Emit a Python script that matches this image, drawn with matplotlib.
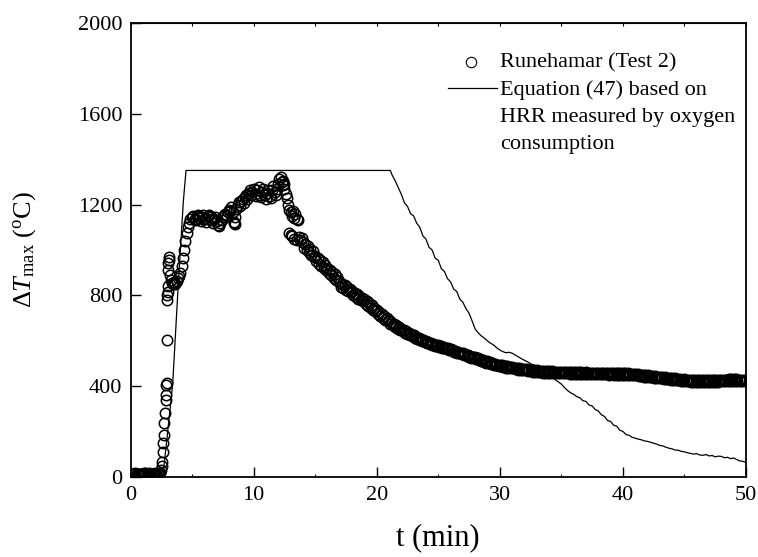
import numpy as np
import matplotlib
matplotlib.use("Agg")
import matplotlib.pyplot as plt

plt.rcParams["font.family"] = ["Liberation Serif", "DejaVu Serif"]
plt.rcParams["mathtext.fontset"] = "custom"
plt.rcParams["mathtext.rm"] = "Liberation Serif"
plt.rcParams["mathtext.it"] = "Liberation Serif:italic"

# ── Runehamar Test 2, measured ΔTmax (°C) ─────────────
# before ignition (sampled every 6 s)
t_pre = np.linspace(0.0, 2.4, 25)
dT_pre = [15, 16, 14, 15, 17, 15, 14, 16, 15, 16, 15, 17, 18,
          16, 15, 17, 16, 15, 14, 16, 17, 15, 16, 17, 18]

# ignition and growth (irregular read-off)
t_grow = [2.50, 2.53, 2.56, 2.60, 2.65, 2.70, 2.75, 2.80, 2.85, 2.88,
          2.92, 2.94, 2.96, 2.98, 3.00, 3.02, 3.04, 3.06, 3.08, 3.10,
          3.14, 3.18,
          3.25, 3.35, 3.45, 3.55, 3.65, 3.75, 3.85, 3.95,
          4.05, 4.15, 4.25, 4.35, 4.45, 4.55, 4.65, 4.75, 4.85]
dT_grow = [30, 50, 69, 113, 151, 186, 239, 283, 340, 362,
           406, 413, 604, 780, 800, 815, 840, 912, 941, 970,
           955, 890,
           870, 855, 850, 860, 850, 865, 875, 885,
           900, 930, 965, 1000, 1040, 1075, 1100, 1120, 1135]

# fully developed fire, 5.0 - 16.9 min every 6 s
t_peak = np.linspace(5.0, 16.9, 120)
dT_peak = [1145, 1150, 1138, 1130, 1148, 1155, 1140, 1128, 1145, 1152,   # 5
           1138, 1125, 1135, 1150, 1156, 1145, 1130, 1120, 1135, 1146,   # 6
           1128, 1112, 1104, 1118, 1132, 1146, 1152, 1160, 1150, 1168,   # 7
           1178, 1172, 1190, 1165, 1125, 1145, 1182, 1200, 1212, 1195,   # 8
           1215, 1226, 1208, 1232, 1242, 1224, 1252, 1262, 1240, 1256,   # 9
           1270, 1248, 1236, 1262, 1276, 1244, 1232, 1256, 1270, 1240,   # 10
           1226, 1252, 1266, 1238, 1230, 1262, 1280, 1254, 1240, 1268,   # 11
           1292, 1312, 1320, 1298, 1288, 1268, 1248, 1228, 1198, 1176,   # 12
           1165, 1150, 1172, 1142, 1160, 1138, 1130, 1058, 1046, 1052,   # 13
           1035, 1010, 1028, 1000, 1018, 992, 1005, 980, 995, 968,       # 14
           975, 950, 965, 940, 955, 930, 948, 920, 935, 912,             # 15
           922, 898, 912, 888, 905, 878, 895, 870, 882, 862]             # 16

# scattered points off the main trace
t_scatter = [8.40, 8.45, 12.35, 12.50, 12.90, 13.00, 13.10, 13.30, 13.50]
dT_scatter = [1120, 1115, 1305, 1290, 1075, 1068, 1060, 1050, 1044]

# decay phase, 17 - 50 min every 6 s
t_decay = np.linspace(17.0, 50.0, 331)
dT_decay = [856, 838, 851, 832, 845, 826, 838, 820, 830, 815,   # 17
            820, 800, 812, 794, 806, 786, 798, 780, 790, 776,   # 18
            784, 764, 774, 754, 766, 744, 756, 736, 746, 730,   # 19
            738, 718, 728, 708, 718, 700, 710, 692, 700, 686,   # 20
            694, 676, 684, 668, 676, 660, 668, 654, 660, 648,   # 21
            654, 642, 648, 636, 642, 630, 636, 624, 630, 620,   # 22
            624, 614, 618, 608, 614, 603, 607, 598, 602, 594,   # 23
            598, 590, 594, 586, 590, 583, 586, 579, 583, 577,   # 24
            581, 574, 577, 570, 574, 567, 571, 564, 567, 561,   # 25
            566, 558, 561, 553, 557, 549, 553, 545, 549, 542,   # 26
            548, 540, 543, 535, 539, 531, 535, 527, 530, 523,   # 27
            530, 522, 525, 516, 520, 512, 515, 507, 511, 503,   # 28
            511, 503, 506, 498, 502, 495, 499, 492, 496, 489,   # 29
            496, 489, 492, 485, 490, 483, 488, 481, 486, 479,   # 30
            486, 479, 483, 476, 481, 474, 479, 472, 477, 471,   # 31
            478, 471, 475, 468, 473, 466, 471, 465, 470, 463,   # 32
            471, 464, 469, 462, 468, 461, 467, 460, 466, 460,   # 33
            467, 460, 466, 459, 465, 458, 465, 458, 464, 458,   # 34
            465, 458, 464, 457, 464, 457, 463, 456, 463, 456,   # 35
            463, 456, 462, 455, 462, 455, 462, 455, 461, 454,   # 36
            462, 455, 461, 454, 461, 454, 461, 454, 460, 453,   # 37
            461, 454, 460, 453, 460, 453, 460, 453, 459, 452,   # 38
            460, 453, 459, 452, 459, 452, 459, 452, 458, 451,   # 39
            459, 452, 458, 451, 457, 450, 456, 449, 455, 448,   # 40
            455, 448, 453, 446, 452, 445, 450, 443, 448, 441,   # 41
            449, 442, 447, 440, 446, 439, 444, 437, 442, 435,   # 42
            443, 436, 441, 434, 440, 433, 438, 431, 436, 429,   # 43
            437, 430, 435, 428, 434, 427, 432, 425, 430, 423,   # 44
            431, 424, 429, 422, 428, 421, 427, 420, 426, 419,   # 45
            427, 420, 426, 419, 426, 419, 426, 419, 426, 419,   # 46
            427, 420, 427, 420, 428, 421, 428, 421, 429, 422,   # 47
            429, 422, 430, 423, 430, 423, 431, 424, 431, 424,   # 48
            431, 424, 431, 424, 430, 423, 430, 423, 429, 422,   # 49
            426]                                                # 50

# ── Equation (47) from HRR by oxygen consumption ──────
t_eq_rise = [0.0, 1.0, 2.0, 2.64, 3.0, 3.43, 3.83, 4.29, 4.51, 21.1]
dT_eq_rise = [8, 8, 8, 10, 190, 413, 800, 1212, 1350, 1350]

t_eq_fall = np.linspace(21.25, 50.0, 116)
dT_eq_fall = [1330, 1305, 1275,             # 21
              1245, 1208, 1192, 1160,       # 22
              1150, 1118, 1100, 1062,       # 23
              1048, 1012, 1000, 964,        # 24
              955, 918, 906, 874,           # 25
              860, 828, 818, 784,           # 26
              770, 742, 722, 688,           # 27
              652, 635, 622, 612,           # 28
              600, 590, 582, 570,           # 29
              560, 553, 548, 550,           # 30
              546, 538, 530, 522,           # 31
              515, 508, 500, 494,           # 32
              485, 478, 468, 460,           # 33
              452, 442, 430, 420,           # 34
              410, 395, 382, 372,           # 35
              365, 355, 350, 337,           # 36
              334, 318, 314, 298,           # 37
              292, 275, 268, 250,           # 38
              246, 229, 225, 207,           # 39
              202, 188, 185, 176,           # 40
              172, 168, 165, 160,           # 41
              158, 154, 150, 146,           # 42
              140, 138, 132, 128,           # 43
              125, 120, 119, 114,           # 44
              112, 108, 105, 102,           # 45
              104, 98, 97, 100,             # 46
              94, 96, 90, 93,               # 47
              92, 86, 88, 82,               # 48
              85, 78, 72, 70,               # 49
              66]                           # 50

t_test = np.concatenate([t_pre, t_grow, t_peak, t_scatter, t_decay])
dT_test = np.concatenate([dT_pre, dT_grow, dT_peak, dT_scatter, dT_decay])
t_eq = np.concatenate([t_eq_rise, t_eq_fall])
dT_eq = np.concatenate([dT_eq_rise, dT_eq_fall])

# ── Plot ──────────────────────────────────────────────
fig = plt.figure(figsize=(7.58, 5.57), dpi=100)
ax = fig.add_axes([130.5 / 758, 1 - 477.3 / 557, 615.5 / 758, 454.6 / 557])

marker_style = dict(marker="o", linestyle="none", markersize=7.5,
                    markerfacecolor="none", markeredgecolor="black",
                    markeredgewidth=1.1)

ax.plot(t_eq, dT_eq, color="black", linewidth=0.9)
ax.plot(t_test, dT_test, **marker_style)

ax.set_xlim(0, 50)
ax.set_ylim(0, 2000)
ax.set_xticks(range(0, 51, 10))
ax.set_xticks(range(5, 50, 10), minor=True)
ax.set_yticks(range(0, 2001, 400))
ax.tick_params(which="major", direction="in", length=7, width=1.0,
               labelsize=16, pad=6)
ax.tick_params(which="minor", direction="in", length=2, width=0.8)
for s in ax.spines.values():
    s.set_linewidth(1.3)

top = ax.secondary_xaxis("top")
top.set_xticks(range(0, 51, 5))
top.tick_params(direction="in", length=2, width=0.8, labeltop=False)

ax.set_xlabel("t (min)", fontsize=22)
ax.xaxis.set_label_coords(0.5, -0.1)
ax.set_ylabel(r"$\Delta T_{\mathrm{max}}$ ($^{\mathrm{o}}$C)", fontsize=19)
ax.yaxis.set_label_coords(-0.15, 0.5)

# ── Legend drawn by hand (line sits beside its first text row) ──
ax.plot([0.554], [0.914], transform=ax.transAxes,
        **dict(marker_style, markeredgewidth=0.8))
ax.plot([0.516, 0.5955], [0.856, 0.856], color="black", linewidth=0.9,
        transform=ax.transAxes)
legend_rows = ["Runehamar (Test 2)", "Equation (47) based on",
               "HRR measured by oxygen", "consumption"]
for i, row in enumerate(legend_rows):
    ax.text(0.6, 0.9004 - i * 0.0594, row, transform=ax.transAxes,
            fontsize=16, va="baseline", ha="left")

fig.savefig("out.png", dpi=100)
